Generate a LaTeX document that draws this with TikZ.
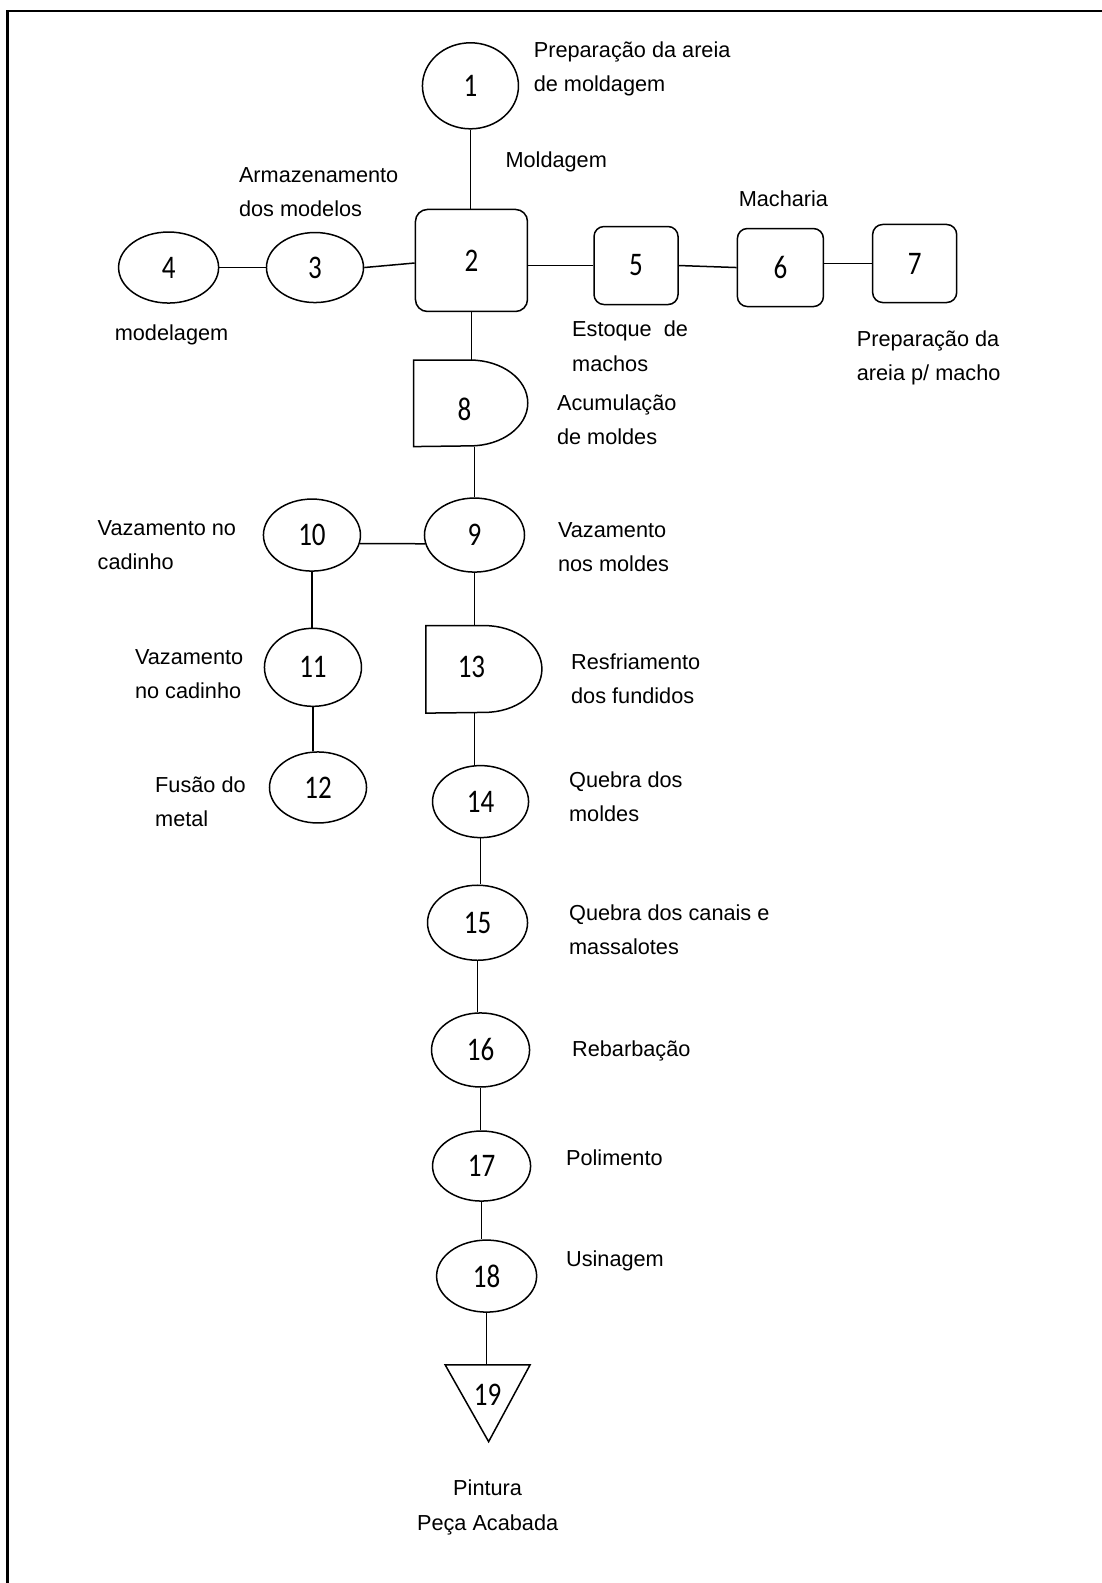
\documentclass[tikz,border=0pt]{standalone}
\usepackage{fontspec}
\setmainfont{Liberation Sans}
\newfontfamily\numfont{Carlito}
\usetikzlibrary{shapes.geometric,calc}
\newcommand\numtxt[1]{\scalebox{1}[1.22]{#1}}
\begin{document}
\begin{tikzpicture}[x=1.0092pt,y=-1.0092pt,
  line width=1.5pt,
  ell/.style={draw, ellipse, inner sep=0pt, font=\numfont\fontsize{27}{30}\selectfont},
  rbox/.style={draw, rectangle, rounded corners=10pt, inner sep=0pt, font=\numfont\fontsize{27}{30}\selectfont},
  num/.style={inner sep=0pt, font=\numfont\fontsize{27}{30}\selectfont},
  hold/.style={draw=none, rectangle, inner sep=0pt},
  lbl/.style={anchor=west, align=left, inner sep=0pt, font=\fontsize{21.7}{34.3}\selectfont},
  clbl/.style={anchor=center, align=center, inner sep=0pt, font=\fontsize{21.7}{34.3}\selectfont},
  frame/.style={line width=2.6pt}
]
\useasboundingbox (0,0) rectangle (1091,1568);
% frame (only left and top edges visible)
\coordinate (fa) at (7.4,1570);
\coordinate (fb) at (7.4,10.9);
\coordinate (fc) at (1093,10.9);
\draw[frame] (fa) -- (fb) -- (fc);

% ellipse nodes
\node[ell, minimum width=96, minimum height=86] (n1) at (466,85) {\numtxt{1}};
\node[ell, minimum width=97, minimum height=70] (n3) at (312,265) {\numtxt{3}};
\node[ell, minimum width=100, minimum height=71] (n4) at (167,265) {\numtxt{4}};
\node[ell, minimum width=100, minimum height=74] (n9) at (470,530) {\numtxt{9}};
\node[ell, minimum width=97, minimum height=72] (n10) at (309,530) {\numtxt{10}};
\node[ell, minimum width=97, minimum height=78] (n11) at (310,661) {\numtxt{11}};
\node[ell, minimum width=97, minimum height=71] (n12) at (315,780) {\numtxt{12}};
\node[ell, minimum width=96, minimum height=72] (n14) at (476,794) {\numtxt{14}};
\node[ell, minimum width=100, minimum height=75] (n15) at (473,914) {\numtxt{15}};
\node[ell, minimum width=98, minimum height=74] (n16) at (476,1040) {\numtxt{16}};
\node[ell, minimum width=98, minimum height=70] (n17) at (477,1155) {\numtxt{17}};
\node[ell, minimum width=100, minimum height=72] (n18) at (482,1264) {\numtxt{18}};

% rounded boxes
\node[rbox, rounded corners=12pt, minimum width=112, minimum height=102] (n2) at (467,258) {\numtxt{2}};
\node[rbox, minimum width=84, minimum height=78] (n5) at (630,263) {\numtxt{5}};
\node[rbox, minimum width=86, minimum height=78] (n6) at (773,265) {\numtxt{6}};
\node[rbox, minimum width=84, minimum height=78] (n7) at (906,261) {\numtxt{7}};

% delay (D) shapes
\node[hold, minimum width=113, minimum height=85] (n8) at (466.5,399.5) {};
\node[num] (n8t) at (460,405) {\numtxt{8}};
\draw (n8.south west) -- (n8.north west) -- ++(56,0)
  .. controls +(31.5,0) and +(0,-23.5) .. ++(57,42.5)
  .. controls +(0,23.5) and +(31.5,0) .. ++(-57,42.5) -- cycle;
\node[hold, minimum width=115, minimum height=86] (n13) at (479.5,663) {};
\node[num] (n13t) at (467,661) {\numtxt{13}};
\draw (n13.south west) -- (n13.north west) -- ++(58,0)
  .. controls +(31.5,0) and +(0,-23.7) .. ++(57,43)
  .. controls +(0,23.7) and +(31.5,0) .. ++(-57,43) -- cycle;

% triangle 19
\coordinate (t19a) at (441,1352);
\coordinate (t19b) at (525,1352);
\coordinate (t19c) at (484,1428);
\draw[line join=miter] (t19a) -- (t19b) -- (t19c) -- cycle;
\node[num] (n19) at (483,1382) {\numtxt{19}};

% connectors
\draw (n1.south) -- (n1.south |- n2.north);
\draw (n4.east) -- (n3.west);
\draw (n3.east) -- ($(n2.west)+(0,2.5)$);
\draw (n2.east |- n5.west) -- (n5.west);
\draw (n5.east) -- (n6.west);
\draw (n6.east |- n7.west) -- (n7.west);
\draw (n2.south) -- (n2.south |- n8.north);
\draw (n9.north |- n8.south) -- (n9.north);
\draw (n10.-10) -- (n9.190);
\draw (n10.south) -- (n10.south |- n11.north);
\draw (n11.south) -- (n11.south |- n12.north);
\draw (n9.south) -- (n9.south |- n13.north);
\draw (n13.south -| n14.north) ++(-6,0) coordinate (c13) -- (c13 |- n14.north);
\draw (n14.south) -- (n14.south |- n15.north);
\draw (n15.south) -- (n15.south |- n16.north);
\draw (n16.south) -- (n16.south |- n17.north);
\draw (n17.south) -- (n17.south |- n18.north);
\draw (n18.south) -- (n18.south |- t19a);

% labels
\node[lbl] (l1) at (528,68.5) {Preparação da areia\\de moldagem};
\node[lbl] (l2) at (500,160) {Moldagem};
\node[lbl] (l3) at (236,190) {Armazenamento\\dos modelos};
\node[lbl] (l4) at (113,332) {modelagem};
\node[lbl] (l6) at (731,197) {Macharia};
\node[lbl] (l5) at (566,343) {Estoque\ \ de\\machos};
\node[lbl] (l7) at (848,354.5) {Preparação da\\areia p/ macho};
\node[lbl] (l8) at (551,416) {Acumulação\\de moldes};
\node[lbl] (l10) at (96,540) {Vazamento no\\cadinho};
\node[lbl] (l9) at (552,542) {Vazamento\\nos moldes};
\node[lbl] (l11) at (133,668) {Vazamento\\no cadinho};
\node[lbl] (l13) at (565,672.5) {Resfriamento\\dos fundidos};
\node[lbl] (l12) at (153,794) {Fusão do\\metal};
\node[lbl] (l14) at (563,789) {Quebra dos\\moldes};
\node[lbl] (l15) at (563,921) {Quebra dos canais e\\massalotes};
\node[lbl] (l16) at (566,1041) {Rebarbação};
\node[lbl] (l17) at (560,1147) {Polimento};
\node[lbl] (l18) at (560,1249) {Usinagem};
\node[clbl] (l19) at (483,1493) {Pintura\\Peça Acabada};
\end{tikzpicture}
\end{document}
